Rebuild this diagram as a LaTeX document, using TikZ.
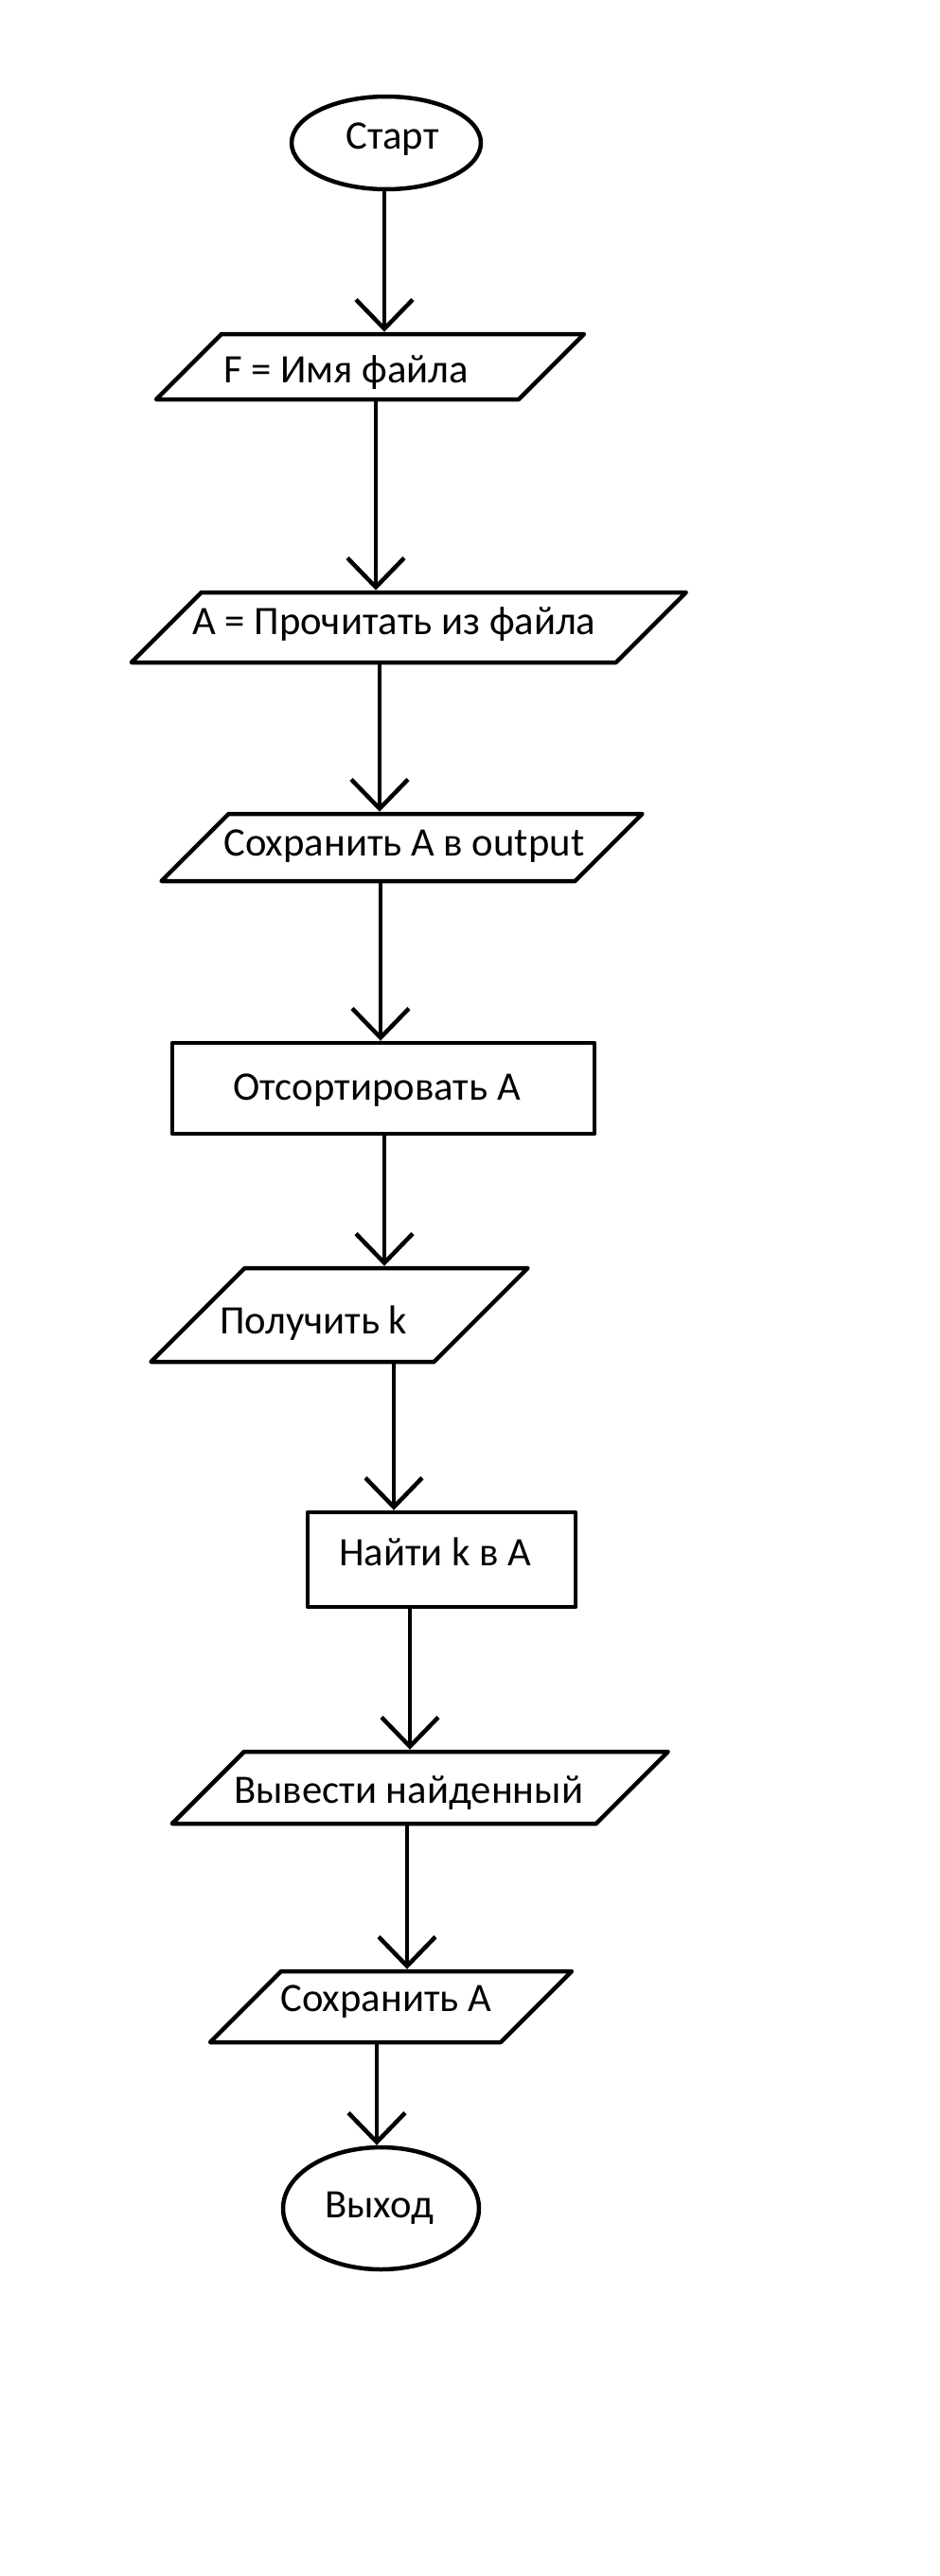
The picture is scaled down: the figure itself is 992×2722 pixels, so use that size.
\documentclass[tikz,border=0pt]{standalone}
\usepackage{fontspec}
\setmainfont{Carlito}
\usetikzlibrary{shapes.geometric,arrows.meta}
\begin{document}
\begin{tikzpicture}[x=0.02cm,y=-0.02cm,line join=round,line width=0.09cm,
    >={Straight Barb[length=0.62cm,width=1.2cm]},
    term/.style={ellipse,draw,inner sep=0pt},
    io/.style={trapezium,trapezium left angle=45,trapezium right angle=135,
      trapezium stretches body,draw,inner sep=0pt,text depth=0pt},
    proc/.style={rectangle,draw,inner sep=0pt},
    txt/.style={anchor=base west,inner sep=0pt,font=\fontsize{24.3pt}{29pt}\selectfont}]
\useasboundingbox (0,0) rectangle (992,2722);
% blocks
\node[term,minimum width=4cm,minimum height=1.96cm] (start) at (408,151) {};
\node[io,minimum width=9.04cm,text height=1.38cm] (fname) at (391,387.5) {};
\node[io,minimum width=11.72cm,text height=1.48cm] (readA) at (431.75,663) {};
\node[io,minimum width=10.16cm,text height=1.42cm] (saveout) at (424.5,895.5) {};
\node[proc,minimum width=8.92cm,minimum height=1.92cm] (sortA) at (405,1150) {};
\node[io,minimum width=7.96cm,text height=1.98cm] (getk) at (358.5,1389.5) {};
\node[proc,minimum width=5.66cm,minimum height=2cm] (findk) at (466.5,1648) {};
\node[io,minimum width=10.48cm,text height=1.52cm] (outfound) at (443.75,1889) {};
\node[io,minimum width=7.64cm,text height=1.5cm] (saveA) at (413,2120.5) {};
\node[term,minimum width=4.14cm,minimum height=2.58cm] (stop) at (402.5,2333.5) {};
% texts
\node[txt] (tstart) at (363,157) {Старт};
\node[txt] (tfname) at (234,404) {F = Имя файла};
\node[txt] (treadA) at (201,670) {A = Прочитать из файла};
\node[txt] (tsaveout) at (234,904) {Сохранить А в output};
\node[txt] (tsortA) at (244,1162) {Отсортировать А};
\node[txt] (tgetk) at (230,1409) {Получить k};
\node[txt] (tfindk) at (356,1654) {Найти k в А};
\node[txt] (toutfound) at (245,1905) {Вывести найденный};
\node[txt] (tsaveA) at (294,2125) {Сохранить А};
\node[txt] (tstop) at (341,2343) {Выход};
% arrows
\foreach \a/\b/\x in {start/fname/406,fname/readA/397,readA/saveout/401,saveout/sortA/402,
  sortA/getk/406,getk/findk/416,findk/outfound/433,outfound/saveA/430,saveA/stop/398}
  \draw[->] (\a.south -| \x,0) -- (\b.north -| \x,0);
\end{tikzpicture}
\end{document}
